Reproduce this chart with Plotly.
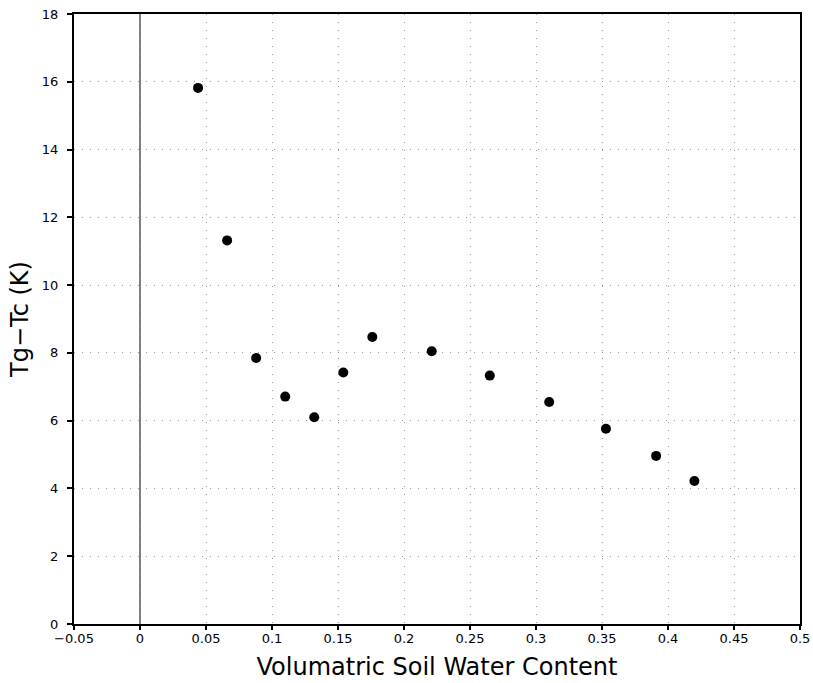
import plotly.graph_objects as go

soil_water = [0.044, 0.066, 0.088, 0.110, 0.132, 0.154, 0.176, 0.221, 0.265, 0.310, 0.353, 0.391, 0.420]
tg_minus_tc = [15.82, 11.32, 7.85, 6.71, 6.10, 7.42, 8.47, 8.05, 7.33, 6.55, 5.76, 4.96, 4.22]

x_ticks = [-0.05, 0, 0.05, 0.1, 0.15, 0.2, 0.25, 0.3, 0.35, 0.4, 0.45, 0.5]
x_tick_text = ["−0.05", "0", "0.05", "0.1", "0.15", "0.2", "0.25", "0.3", "0.35", "0.4", "0.45", "0.5"]
y_ticks = [0, 2, 4, 6, 8, 10, 12, 14, 16, 18]

fig = go.Figure()
fig.add_trace(go.Scatter(
    x=soil_water, y=tg_minus_tc, mode="markers",
    marker=dict(color="black", size=10),
    showlegend=False, cliponaxis=False,
))

fig.add_shape(type="line", x0=0, x1=0, y0=0, y1=18, xref="x", yref="y",
              line=dict(color="black", width=1), layer="below")

font = "DejaVu Sans, Verdana, sans-serif"
fig.update_layout(
    width=813, height=683,
    margin=dict(l=74, r=13, t=14, b=59),
    paper_bgcolor="white", plot_bgcolor="white",
    font=dict(family=font, color="black", size=13),
)
fig.update_xaxes(
    range=[-0.05, 0.5], tickvals=x_ticks, ticktext=x_tick_text,
    showgrid=True, gridcolor="#999", griddash="1px,7px", gridwidth=1,
    showline=True, linecolor="black", linewidth=2, mirror=True,
    ticks="outside", ticklen=4, tickwidth=1.5, tickcolor="black",
    zeroline=False, automargin=False, ticklabeloverflow="allow",
    ticklabelstandoff=-3,
    title=dict(text="Volumatric Soil Water Content", font=dict(size=24, family=font), standoff=14),
)
fig.update_yaxes(
    range=[0, 18], tickvals=y_ticks,
    showgrid=True, gridcolor="#999", griddash="1px,7px", gridwidth=1,
    showline=True, linecolor="black", linewidth=2, mirror=True,
    ticks="outside", ticklen=5, tickwidth=1.5, tickcolor="black",
    zeroline=False, automargin=False, ticklabelstandoff=6,
    title=dict(text="Tg−Tc (K)", font=dict(size=24, family=font), standoff=6),
)

fig.write_html("out.html", config={"displayModeBar": False},
               post_script="document.body.style.margin='0';")
